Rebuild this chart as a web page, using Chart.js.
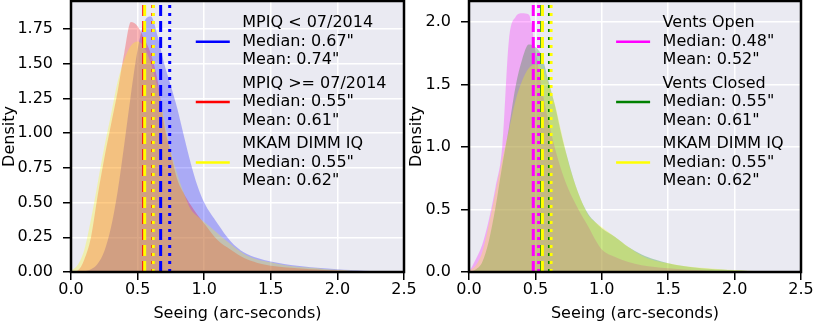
<!DOCTYPE html>
<html>
<head>
<meta charset="utf-8">
<script src="https://cdn.jsdelivr.net/npm/chart.js@4.4.1/dist/chart.umd.min.js"></script>
<style>
  body { margin: 0; background: #fff; }
  #wrap { position: relative; width: 814px; height: 323px; }
  canvas { position: absolute; left: 0; top: 0; }
</style>
</head>
<body>
<div id="wrap">
  <canvas id="left" width="814" height="323"></canvas>
  <canvas id="right" width="814" height="323"></canvas>
</div>
<script>
// seeing grid (arc-seconds) the densities were read at
const seeing = [0.0, 0.05, 0.1, 0.15, 0.2, 0.25, 0.3, 0.35, 0.4, 0.45, 0.5, 0.55, 0.6, 0.65, 0.7, 0.75,
  0.8, 0.85, 0.9, 0.95, 1.0, 1.1, 1.2, 1.3, 1.4, 1.5, 1.6, 1.7, 1.8, 1.9, 2.0, 2.1, 2.2, 2.3, 2.4, 2.5];

const mpiqOld = [0, 0, 0.005, 0.02, 0.06, 0.15, 0.32, 0.58, 0.92, 1.28, 1.6, 1.8, 1.84, 1.7, 1.5, 1.34,
  1.17, 0.97, 0.78, 0.62, 0.5, 0.35, 0.22, 0.14, 0.1, 0.075, 0.058, 0.045, 0.035, 0.027, 0.02, 0.014, 0.009, 0.005, 0.003, 0.001];
const mpiqNew = [0, 0.01, 0.09, 0.25, 0.55, 0.82, 1.06, 1.3, 1.58, 1.8, 1.77, 1.68, 1.57, 1.38, 1.06, 0.85,
  0.66, 0.56, 0.48, 0.41, 0.35, 0.23, 0.16, 0.1, 0.065, 0.045, 0.035, 0.027, 0.02, 0.015, 0.011, 0.008, 0.005, 0.003, 0.002, 0.001];
const dimm = [0.01, 0.05, 0.16, 0.38, 0.64, 0.9, 1.13, 1.37, 1.53, 1.63, 1.66, 1.62, 1.5, 1.33, 1.1, 0.87,
  0.7, 0.56, 0.45, 0.4, 0.36, 0.28, 0.2, 0.13, 0.09, 0.07, 0.05, 0.038, 0.03, 0.022, 0.016, 0.011, 0.007, 0.004, 0.002, 0.001];
const ventsOpen = [0, 0.1, 0.22, 0.42, 0.68, 1.0, 1.85, 2.04, 2.07, 2.06, 1.78, 1.46, 1.2, 0.98, 0.8, 0.66,
  0.55, 0.45, 0.36, 0.26, 0.18, 0.12, 0.08, 0.055, 0.04, 0.03, 0.022, 0.016, 0.011, 0.008, 0.005, 0.003, 0.002, 0.001, 0, 0];
const ventsClosed = [0, 0.02, 0.08, 0.25, 0.52, 0.85, 1.15, 1.48, 1.7, 1.82, 1.8, 1.72, 1.52, 1.32, 1.08, 0.88,
  0.7, 0.56, 0.46, 0.4, 0.35, 0.28, 0.2, 0.14, 0.1, 0.07, 0.05, 0.037, 0.027, 0.02, 0.014, 0.009, 0.006, 0.003, 0.002, 0.001];

const leftNames = ['MPIQ < 07/2014', 'MPIQ >= 07/2014', 'MKAM DIMM IQ'];
const leftMedians = [0.673, 0.546, 0.553];
const leftMeans = [0.741, 0.614, 0.618];
const leftColors = ['#0000ff', '#ff0000', '#ffff00'];

const rightNames = ['Vents Open', 'Vents Closed', 'MKAM DIMM IQ'];
const rightMedians = [0.484, 0.548, 0.553];
const rightMeans = [0.524, 0.606, 0.618];
const rightColors = ['#ff00ff', '#008000', '#ffff00'];

const xTicks = [0, 0.5, 1.0, 1.5, 2.0, 2.5];
const leftYTicks = [0, 0.25, 0.5, 0.75, 1.0, 1.25, 1.5, 1.75];
const rightYTicks = [0, 0.5, 1.0, 1.5, 2.0];

const FONT = '"DejaVu Sans", "Liberation Sans", sans-serif';

function fade(hex, a) {
  const n = parseInt(hex.slice(1), 16);
  return `rgba(${n >> 16}, ${(n >> 8) & 255}, ${n & 255}, ${a})`;
}

function kdePlugin(names, medians, means, colors) {
  return {
    id: 'kde',
    beforeDraw(chart) {
      const a = chart.chartArea, ctx = chart.ctx;
      ctx.save();
      ctx.fillStyle = '#eaeaf2';
      ctx.fillRect(a.left, a.top, a.right - a.left, a.bottom - a.top);
      ctx.restore();
    },
    afterDatasetsDraw(chart) {
      const a = chart.chartArea, ctx = chart.ctx, xs = chart.scales.x;
      ctx.save();
      ctx.beginPath();
      ctx.rect(a.left, a.top, a.right - a.left, a.bottom - a.top);
      ctx.clip();
      ctx.lineWidth = 3;
      ctx.lineCap = 'butt';
      colors.forEach((c, i) => {
        [[medians[i], [11, 5]], [means[i], [3, 5]]].forEach(([v, dash]) => {
          const px = xs.getPixelForValue(v);
          ctx.strokeStyle = c;
          ctx.setLineDash(dash);
          ctx.beginPath();
          ctx.moveTo(px, a.bottom);
          ctx.lineTo(px, a.top);
          ctx.stroke();
        });
      });
      ctx.restore();
    },
    afterDraw(chart) {
      const a = chart.chartArea, ctx = chart.ctx;
      ctx.save();
      ctx.strokeStyle = '#000';
      ctx.lineWidth = 2.5;
      ctx.strokeRect(a.left, a.top, a.right - a.left, a.bottom - a.top);

      // legend
      ctx.font = '16px ' + FONT;
      const lines = names.map((n, i) => [n, `Median: ${medians[i].toFixed(2)}"`, `Mean: ${means[i].toFixed(2)}"`]);
      const maxW = Math.max(...lines.flat().map(t => ctx.measureText(t).width));
      const textX = a.right - 17.5 - maxW;
      lines.forEach((ls, i) => {
        const mid = a.top + 40.7 + i * 60.4;
        ctx.strokeStyle = colors[i];
        ctx.lineWidth = 2.5;
        ctx.beginPath();
        ctx.moveTo(textX - 46.5, mid);
        ctx.lineTo(textX - 12.5, mid);
        ctx.stroke();
        ctx.fillStyle = '#000';
        ctx.textAlign = 'left';
        ctx.textBaseline = 'middle';
        ls.forEach((t, j) => ctx.fillText(t, textX, mid + (j - 1) * 18.6));
      });
      ctx.restore();
    }
  };
}

function makeChart(id, series, names, medians, means, colors, yMax, yTicks, yDigits, pad, yWidth) {
  return new Chart(document.getElementById(id), {
    type: 'line',
    data: {
      datasets: series.map((s, i) => ({
        label: names[i],
        data: seeing.map((x, k) => ({ x: x, y: s[k] })),
        fill: 'origin',
        backgroundColor: fade(colors[i], 0.27),
        borderColor: 'rgba(0,0,0,0)',
        borderWidth: 0,
        pointRadius: 0,
        cubicInterpolationMode: 'monotone',
        order: series.length - 1 - i
      }))
    },
    options: {
      responsive: false,
      animation: false,
      devicePixelRatio: 1,
      layout: { padding: pad },
      plugins: { legend: { display: false }, tooltip: { enabled: false } },
      scales: {
        x: {
          type: 'linear', min: 0, max: 2.5,
          afterBuildTicks: s => { s.ticks = xTicks.map(v => ({ value: v })); },
          afterFit: s => { s.height = 51; s.paddingLeft = 0; s.paddingRight = 0; },
          ticks: { font: { size: 16, family: FONT }, color: '#000', padding: 0, maxRotation: 0,
                   callback: v => v.toFixed(1) },
          grid: { color: '#fff', lineWidth: 1.5, tickColor: '#000', tickWidth: 1.5, tickLength: 8 },
          border: { display: false },
          title: { display: true, text: 'Seeing (arc-seconds)', font: { size: 16, family: FONT }, color: '#000', padding: 0 }
        },
        y: {
          type: 'linear', min: 0, max: yMax,
          afterBuildTicks: s => { s.ticks = yTicks.map(v => ({ value: v })); },
          afterFit: s => { s.width = yWidth; s.paddingTop = 0; s.paddingBottom = 0; },
          ticks: { font: { size: 16, family: FONT }, color: '#000', padding: 10,
                   callback: v => v.toFixed(yDigits) },
          grid: { color: '#fff', lineWidth: 1.5, tickColor: '#000', tickWidth: 1.5, tickLength: 8 },
          border: { display: false },
          title: { display: true, text: 'Density', font: { size: 16, family: FONT }, color: '#000', padding: 0 }
        }
      }
    },
    plugins: [kdePlugin(names, medians, means, colors)]
  });
}

makeChart('left', [mpiqOld, mpiqNew, dimm], leftNames, leftMedians, leftMeans, leftColors,
  1.952, leftYTicks, 2, { left: 0, right: 410, top: 1, bottom: 0 }, 71);
makeChart('right', [ventsOpen, ventsClosed, dimm], rightNames, rightMedians, rightMeans, rightColors,
  2.168, rightYTicks, 1, { left: 407, right: 13, top: 1, bottom: 0 }, 62);
</script>
</body>
</html>
